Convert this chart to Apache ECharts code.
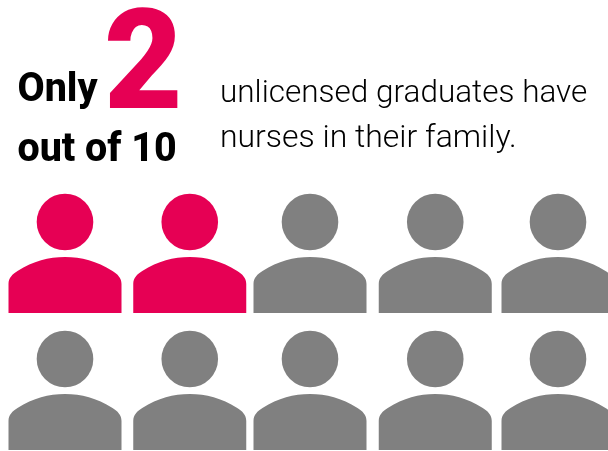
<!DOCTYPE html>
<html>
<head>
<meta charset="utf-8">
<style>html,body{margin:0;padding:0;background:#fff}#chart{width:608px;height:451px}</style>
<script src="https://cdn.jsdelivr.net/npm/echarts@6/dist/echarts.min.js"></script>
</head>
<body>
<div id="chart"></div>
<script>
// Icon array: two of ten unlicensed graduates have nurses in their family.
const total = 10;
const highlighted = 2;
const perRow = 5;
const headline = ['Only', '2', 'out of 10'];
const caption = ['unlicensed graduates have', 'nurses in their family.'];

const PINK = '#e60054';
const GREY = '#808080';

// Small horizontal corrections to the evenly spaced columns.
const columnNudge = [0, 1.5, -1.5, 0.5, 0];
const BODY = 'M0 56V27C0 21 4 17 9 14C25 4 40 0 56.5 0C73 0 88 4 104 14C109 17 113 21 113 27V56Z';

const people = [];
for (let i = 0; i < total; i++) {
  people.push([i % perRow, Math.floor(i / perRow), i < highlighted ? 1 : 0]);
}

function renderPerson(params, api) {
  const p = api.coord([api.value(0), api.value(1)]);
  const cx = p[0] + columnNudge[api.value(0)];
  const cy = p[1];
  const fill = api.value(2) ? PINK : GREY;
  return {
    type: 'group',
    children: [
      { type: 'circle', shape: { cx: cx, cy: cy, r: 28.3 }, style: { fill: fill } },
      {
        type: 'path',
        shape: { pathData: BODY, layout: 'cover', x: cx - 56.5, y: cy + 35, width: 113, height: 56 },
        style: { fill: fill }
      }
    ]
  };
}

// baseline is the y of the text's alphabetic baseline
function label(text, x, baseline, size, weight, color, scaleX) {
  return {
    type: 'text', x: x, y: baseline - size * 0.775, scaleX: scaleX || 1,
    style: {
      text: text, fill: color, fontFamily: 'Roboto', fontSize: size, fontWeight: weight,
      textAlign: 'left', textVerticalAlign: 'top'
    }
  };
}

const chart = echarts.init(document.getElementById('chart'), null, { renderer: 'canvas' });
chart.setOption({
  animation: false,
  backgroundColor: '#fff',
  grid: { left: 65, right: 50, top: 222, height: 137 },
  xAxis: { type: 'value', min: 0, max: perRow - 1, show: false },
  yAxis: { type: 'value', min: 0, max: 1, inverse: true, show: false },
  graphic: [
    label(headline[0], 17.5, 102, 40, 800, '#000', 0.985),
    label(headline[1], 104, 111, 140, 900, PINK, 0.97),
    label(headline[2], 17.5, 162, 40, 800, '#000', 0.985),
    label(caption[0], 220, 103, 31, 300, '#000', 1.016),
    label(caption[1], 220, 148, 31, 300, '#000', 1.03)
  ],
  series: [{
    type: 'custom',
    coordinateSystem: 'cartesian2d',
    clip: false,
    silent: true,
    renderItem: renderPerson,
    encode: { x: 0, y: 1 },
    data: people
  }]
});
</script>
</body>
</html>
